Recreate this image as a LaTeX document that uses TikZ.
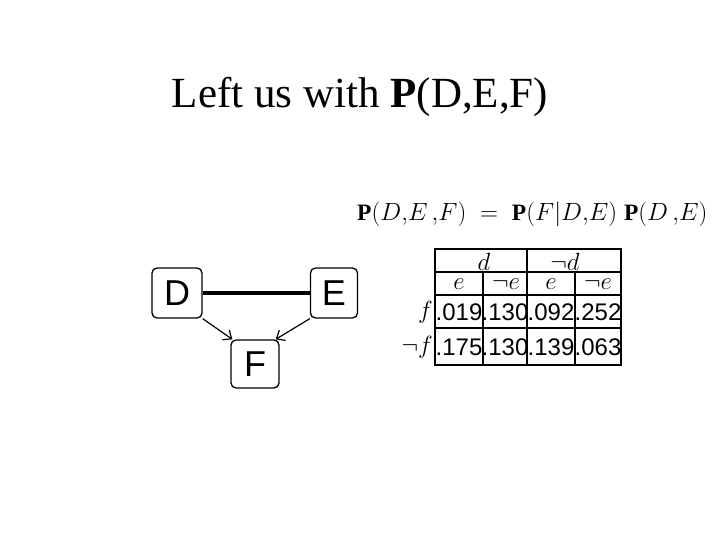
\documentclass[tikz,border=0pt]{standalone}
\usepackage{fontspec}
\setmainfont{Liberation Serif}
\newfontfamily\arial{Liberation Sans}
\usetikzlibrary{arrows.meta}
\begin{document}
\begin{tikzpicture}[x=1pt,y=-1pt,
  box/.style={draw,rounded corners=5pt,minimum width=50pt,minimum height=50pt,font=\arial\fontsize{36}{36}\selectfont,line width=1.3pt},
  cell/.style={font=\arial\fontsize{24}{24}\selectfont,inner sep=0pt},
  hd/.style={font=\fontsize{27}{27}\selectfont,inner sep=0pt},
  arr/.style={-{Straight Barb[length=7pt,width=12pt]},line width=1.2pt}]
\useasboundingbox (0,0) rectangle (720,540);
\node at (360,97) {\fontsize{43}{43}\selectfont Left us with \textbf{P}(D,E,F)};
\node[anchor=west,inner sep=0pt] at (357,214) {\fontsize{23.5}{23.5}\selectfont$\mathbf{P}(D{,}E\,{,}F)\;=\;\mathbf{P}(F|D{,}E)\;\mathbf{P}(D\,{,}E)$};
\node[box] (D) at (177,293) {D};
\node[box,minimum width=47pt] (E) at (334,293) {E};
\node[box,minimum width=48pt,minimum height=48pt] (F) at (255,364) {F};
\draw[line width=3.5pt] (D.east) -- (E.west);
\draw[arr] (D.south east) -- ([xshift=2pt]F.north west);
\draw[arr] (E.south west) -- ([xshift=-4pt]F.north east);
% table
\draw[line width=1.6pt] (435,249) rectangle (621,365);
\draw[line width=1.2pt] (435,272) -- (621,272) (435,295) -- (621,295) (435,328) -- (621,328);
\draw[line width=1.2pt] (527,249) -- (527,365) (483,272) -- (483,365) (575,272) -- (575,365);
\node[hd] (d) at (484,262) {$d$};
\node[hd] (nd) at (565,262) {$\neg d$};
\node[hd] at (459,284) {$e$};
\node[hd] at (506,284) {$\neg e$};
\node[hd] at (551,284) {$e$};
\node[hd] at (598,284) {$\neg e$};
\node[hd,anchor=east] at (433,312) {$f$};
\node[hd,anchor=east] at (433,347) {$\neg f$};
\node[cell] at (459,312) {.019};
\node[cell] at (505,312) {.130};
\node[cell] at (551,312) {.092};
\node[cell] at (598,312) {.252};
\node[cell] at (459,347) {.175};
\node[cell] at (505,347) {.130};
\node[cell] at (551,347) {.139};
\node[cell] at (598,347) {.063};
\end{tikzpicture}
\end{document}
